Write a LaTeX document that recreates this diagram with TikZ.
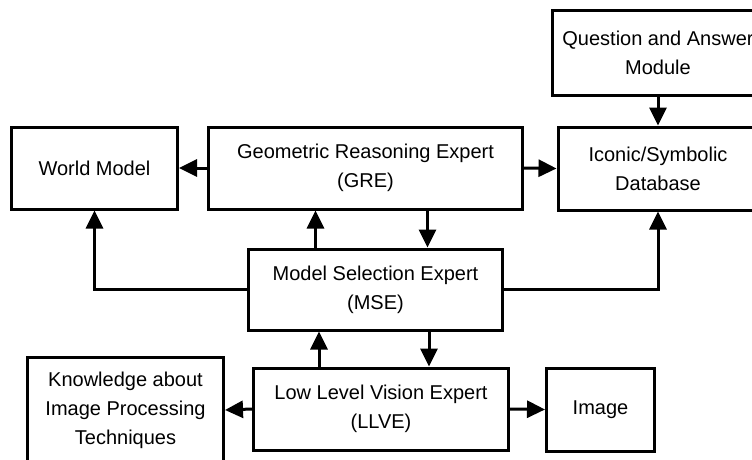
\documentclass[tikz,border=0pt]{standalone}
\usepackage{fontspec}
\setmainfont{Liberation Sans}
\usetikzlibrary{arrows.meta}
\begin{document}
\begin{tikzpicture}[x=1pt,y=-1pt]
\tikzstyle{box}=[draw=black,line width=3pt,align=center,inner sep=0pt,
  font=\fontsize{20}{29}\selectfont]
\tikzstyle{arr}=[line width=3pt,-{Triangle[length=18pt,width=17pt]}]
\useasboundingbox (0,0) rectangle (752,460);
\clip (0,0) rectangle (752,460);
% boxes
\node[box,minimum width=166pt,minimum height=82pt] (wm) at (94.5,168) {World Model};
\node[box,minimum width=314pt,minimum height=82pt] (gre) at (365.5,168) {Geometric Reasoning Expert\\(GRE)};
\node[box,minimum width=212pt,minimum height=84pt] (qa) at (658,53) {Question and Answer\\Module};
\node[box,minimum width=200pt,minimum height=83pt] (ico) at (658,168.5) {Iconic/Symbolic\\Database};
\node[box,minimum width=254pt,minimum height=81pt] (mse) at (375.5,289.5) {Model Selection Expert\\(MSE)};
\node[box,minimum width=255pt,minimum height=82pt] (llve) at (381,409) {Low Level Vision Expert\\(LLVE)};
\node[box,minimum width=196pt,minimum height=106pt] (know) at (125.5,410) {Knowledge about\\Image Processing\\Techniques};
\node[box,minimum width=108pt,minimum height=83pt] (img) at (600.5,409.5) {Image};
% connectors
\draw[arr] (gre.west) -- (wm.east);
\draw[arr] (gre.east) -- (ico.west);
\draw[arr] (qa.south) -- (ico.north);
\draw[arr] (mse.west) -| (wm.south);
\draw[arr] (mse.east) -| (ico.south);
\draw[arr] ([xshift=-60pt]mse.north) -- ([xshift=-60pt]mse.north |- gre.south);
\draw[arr] ([xshift=52pt]mse.north |- gre.south) -- ([xshift=52pt]mse.north);
\draw[arr] ([xshift=-62pt]llve.north) -- ([xshift=-62pt]llve.north |- mse.south);
\draw[arr] ([xshift=48pt]llve.north |- mse.south) -- ([xshift=48pt]llve.north);
\draw[arr] (llve.west) -- (know.east);
\draw[arr] (llve.east) -- (img.west);
\end{tikzpicture}
\end{document}
